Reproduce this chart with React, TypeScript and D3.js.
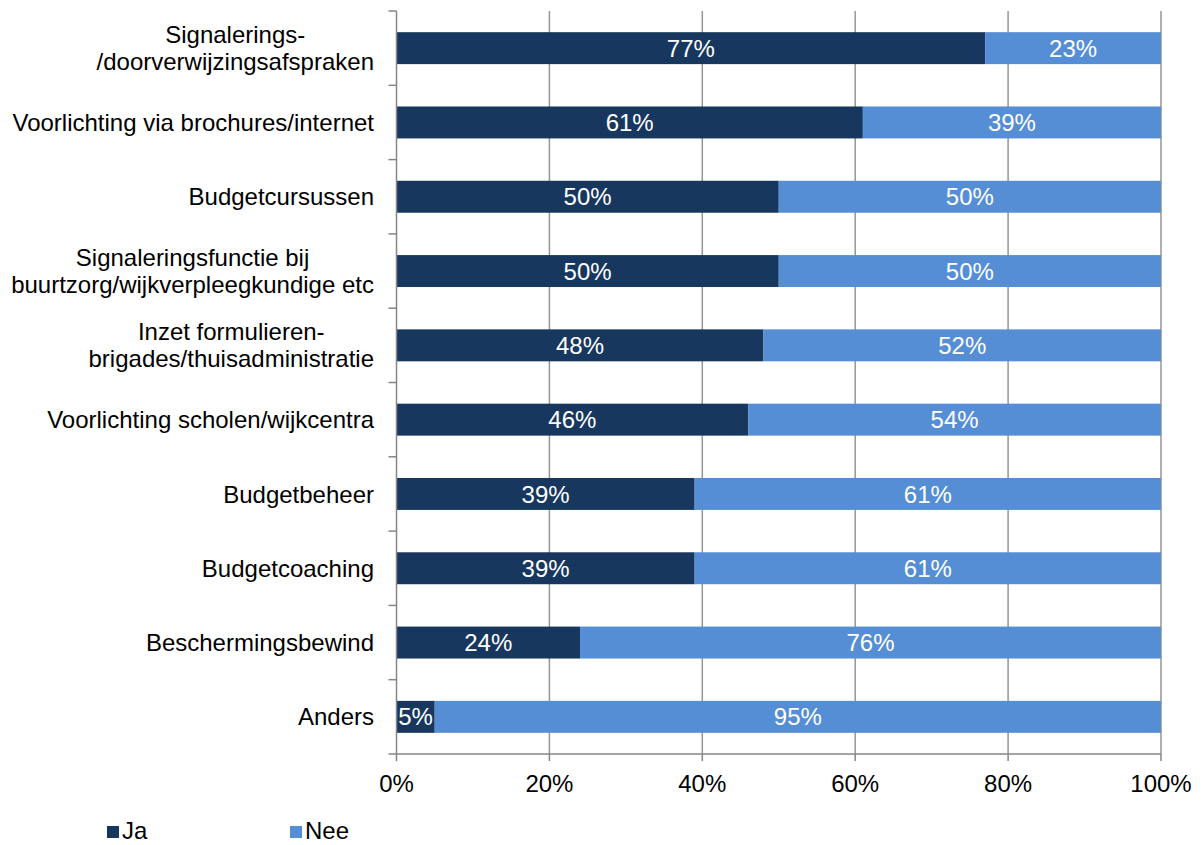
import React, { useEffect, useRef } from 'react';
import * as d3 from 'd3';

const categories = [
  'Signalerings-\n/doorverwijzingsafspraken',
  'Voorlichting via brochures/internet',
  'Budgetcursussen',
  'Signaleringsfunctie bij\nbuurtzorg/wijkverpleegkundige etc',
  'Inzet formulieren-\nbrigades/thuisadministratie',
  'Voorlichting scholen/wijkcentra',
  'Budgetbeheer',
  'Budgetcoaching',
  'Beschermingsbewind',
  'Anders',
];
const ja = [77, 61, 50, 50, 48, 46, 39, 39, 24, 5];
const nee = [23, 39, 50, 50, 52, 54, 61, 61, 76, 95];
const xTicks = [0, 20, 40, 60, 80, 100];

const seriesNames = ['Ja', 'Nee'];
const colors = ['#17375e', '#558ed5'];

const W = 1204;
const H = 845;
const FONT = '"Liberation Sans", Arial, sans-serif';
const FS = 24;

export default function App() {
  const svgRef = useRef<SVGSVGElement>(null);

  useEffect(() => {
    if (!svgRef.current) return;
    const svg = d3.select(svgRef.current);
    svg.selectAll('*').remove();

    const left = 396.5;
    const right = 1161;
    const top = 11;
    const bottom = 754;

    const x = d3.scaleLinear().domain([0, 100]).range([left, right]);
    const y = d3
      .scaleBand<number>()
      .domain(d3.range(categories.length))
      .range([top, bottom])
      .paddingInner(0.57)
      .paddingOuter(0.285);
    const band = (bottom - top) / categories.length;

    // grid lines
    svg
      .append('g')
      .selectAll('line')
      .data(xTicks.slice(1))
      .join('line')
      .attr('x1', d => x(d))
      .attr('x2', d => x(d))
      .attr('y1', top)
      .attr('y2', bottom)
      .attr('stroke', '#969696')
      .attr('stroke-width', 1.5);

    // bars
    const rows = categories.map((c, i) => ({ i, ja: ja[i], nee: nee[i] }));
    rows.forEach(r => {
      const segs = [
        { x0: 0, x1: r.ja, v: r.ja, c: colors[0] },
        { x0: r.ja, x1: r.ja + r.nee, v: r.nee, c: colors[1] },
      ];
      segs.forEach(s => {
        svg
          .append('rect')
          .attr('x', x(s.x0))
          .attr('y', y(r.i)!)
          .attr('width', x(s.x1) - x(s.x0))
          .attr('height', y.bandwidth())
          .attr('fill', s.c);
        svg
          .append('text')
          .attr('x', (x(s.x0) + x(s.x1)) / 2)
          .attr('y', y(r.i)! + y.bandwidth() / 2)
          .attr('dy', '0.36em')
          .attr('text-anchor', 'middle')
          .attr('fill', '#fff')
          .attr('font-family', FONT)
          .attr('font-size', FS)
          .text(`${s.v}%`);
      });
    });

    // left axis
    svg
      .append('line')
      .attr('x1', left)
      .attr('x2', left)
      .attr('y1', top)
      .attr('y2', bottom)
      .attr('stroke', '#868686')
      .attr('stroke-width', 1.5);
    svg
      .append('g')
      .selectAll('line')
      .data(d3.range(categories.length + 1))
      .join('line')
      .attr('x1', left - 8)
      .attr('x2', left)
      .attr('y1', d => top + d * band)
      .attr('y2', d => top + d * band)
      .attr('stroke', '#868686')
      .attr('stroke-width', 1.5);

    // bottom axis
    svg
      .append('line')
      .attr('x1', left)
      .attr('x2', right)
      .attr('y1', bottom)
      .attr('y2', bottom)
      .attr('stroke', '#868686')
      .attr('stroke-width', 1.5);
    const xt = svg.append('g').selectAll('g').data(xTicks).join('g');
    xt.append('line')
      .attr('x1', d => x(d))
      .attr('x2', d => x(d))
      .attr('y1', bottom)
      .attr('y2', bottom + 7)
      .attr('stroke', '#868686')
      .attr('stroke-width', 1.5);
    xt.append('text')
      .attr('x', d => x(d))
      .attr('y', 792)
      .attr('text-anchor', 'middle')
      .attr('font-family', FONT)
      .attr('font-size', FS)
      .attr('fill', '#000')
      .text(d => `${d}%`);

    // category labels
    const labelRight = 374;
    categories.forEach((c, i) => {
      const lines = c.split('\n');
      const cy = top + (i + 0.5) * band;
      const t = svg
        .append('text')
        .attr('font-family', FONT)
        .attr('font-size', FS)
        .attr('fill', '#000')
        .attr('text-anchor', 'middle');
      const spans = lines.map((l, k) =>
        t
          .append('tspan')
          .attr('y', cy + (k - (lines.length - 1) / 2) * 27)
          .attr('dy', '0.36em')
          .text(l)
      );
      const widths = spans.map(s => (s.node() as SVGTSpanElement).getComputedTextLength());
      const cx = labelRight - d3.max(widths)! / 2;
      spans.forEach(s => s.attr('x', cx));
    });

    // legend
    seriesNames.forEach((n, i) => {
      const lx = [107, 290][i];
      svg
        .append('rect')
        .attr('x', lx)
        .attr('y', 826)
        .attr('width', 12)
        .attr('height', 12)
        .attr('fill', colors[i]);
      svg
        .append('text')
        .attr('x', lx + 15)
        .attr('y', 839)
        .attr('font-family', FONT)
        .attr('font-size', FS)
        .attr('fill', '#000')
        .text(n);
    });
  }, []);

  return (
    <svg
      ref={svgRef}
      width={W}
      height={H}
      style={{ position: 'absolute', left: 0, top: 0, background: '#fff' }}
    />
  );
}
